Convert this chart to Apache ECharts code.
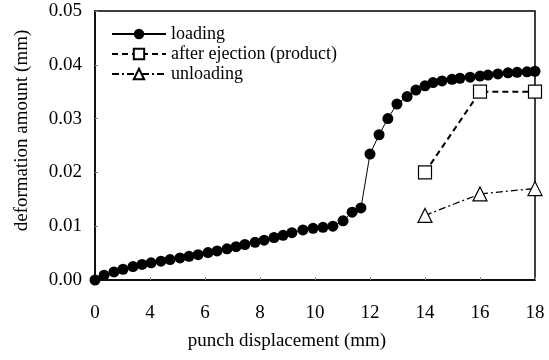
<!DOCTYPE html>
<html>
<head>
<meta charset="utf-8">
<script src="https://cdn.jsdelivr.net/npm/echarts@6/dist/echarts.min.js"></script>
<style>
  html, body { margin: 0; padding: 0; background: #fff; }
  #chart { width: 549px; height: 360px; }
</style>
</head>
<body>
<div id="chart"></div>
<script>
// x positions are in axis units; the first tick (2) is labelled "0" as in the figure
const xTickLabels = { 2: '0', 4: '4', 6: '6', 8: '8', 10: '10', 12: '12', 14: '14', 16: '16', 18: '18' };

const loadingX = [2.00, 2.33, 2.69, 3.02, 3.38, 3.71, 4.04, 4.40, 4.73, 5.09, 5.42, 5.75,
  6.11, 6.44, 6.80, 7.13, 7.45, 7.82, 8.15, 8.51, 8.84, 9.16, 9.56, 9.93, 10.29, 10.65,
  11.02, 11.35, 11.67, 12.00, 12.33, 12.65, 12.98, 13.35, 13.67, 14.00, 14.29, 14.62,
  14.98, 15.27, 15.64, 16.00, 16.29, 16.65, 17.02, 17.35, 17.71, 18.00];
const loadingY = [0, 0.0009, 0.0015, 0.0020, 0.0025, 0.0029, 0.0032, 0.0035, 0.0038, 0.0041,
  0.0044, 0.0047, 0.0051, 0.0054, 0.0058, 0.0062, 0.0066, 0.0070, 0.0074, 0.0079, 0.0083,
  0.0088, 0.0093, 0.0096, 0.0098, 0.0100, 0.0110, 0.0126, 0.0134, 0.0234, 0.0270, 0.0300,
  0.0327, 0.0341, 0.0353, 0.0361, 0.0367, 0.0370, 0.0373, 0.0375, 0.0377, 0.0379, 0.0381,
  0.0383, 0.0385, 0.0386, 0.0387, 0.0388];

const laterX = [14, 16, 18];
const ejectionY = [0.020, 0.035, 0.035];
const unloadingY = [0.012, 0.016, 0.017];

const font = 'Liberation Serif';

function pairs(xs, ys) {
  return xs.map((x, i) => [x, ys[i]]);
}

const chart = echarts.init(document.getElementById('chart'));

chart.setOption({
  animation: false,
  grid: {
    left: 95, right: 14, top: 11, bottom: 80,
    show: true, borderColor: '#000', borderWidth: 1.5
  },
  legend: {
    orient: 'vertical',
    left: 106, top: 19,
    itemWidth: 54, itemHeight: 13, itemGap: 0,
    textStyle: { fontFamily: font, fontSize: 18, color: '#000', lineHeight: 20 },
    data: ['loading', 'after ejection (product)', 'unloading']
  },
  xAxis: {
    type: 'value', min: 2, max: 18, interval: 2,
    name: 'punch displacement (mm)', nameLocation: 'middle', nameGap: 52,
    nameTextStyle: { fontFamily: font, fontSize: 19, color: '#000', padding: [0, 56, 0, 0] },
    axisLine: { lineStyle: { color: '#000', width: 1.5 } },
    axisTick: { inside: true, length: 3, lineStyle: { color: '#888' } },
    axisLabel: {
      fontFamily: font, fontSize: 19, color: '#000', margin: 24,
      formatter: v => xTickLabels[v] || ''
    },
    splitLine: { show: false }
  },
  yAxis: {
    type: 'value', min: 0, max: 0.05, interval: 0.01,
    name: 'deformation amount (mm)', nameLocation: 'middle', nameGap: 63,
    nameTextStyle: { fontFamily: font, fontSize: 19, color: '#000', padding: [0, 0, 0, 30] },
    axisLine: { lineStyle: { color: '#000', width: 1.5 } },
    axisTick: { inside: true, length: 3, lineStyle: { color: '#888' } },
    axisLabel: {
      fontFamily: font, fontSize: 19, color: '#000', margin: 13,
      formatter: v => v.toFixed(2)
    },
    splitLine: { show: false }
  },
  series: [
    {
      name: 'loading', type: 'line',
      data: pairs(loadingX, loadingY),
      symbol: 'circle', symbolSize: 11,
      itemStyle: { color: '#000' },
      lineStyle: { color: '#000', width: 1 },
      z: 3
    },
    {
      name: 'after ejection (product)', type: 'line',
      data: pairs(laterX, ejectionY),
      symbol: 'rect', symbolSize: 13,
      itemStyle: { color: '#fff', borderColor: '#000', borderWidth: 1.2 },
      lineStyle: { color: '#000', width: 2, type: [6, 4] },
      z: 4
    },
    {
      name: 'unloading', type: 'line',
      data: pairs(laterX, unloadingY),
      symbol: 'triangle', symbolSize: 14,
      itemStyle: { color: '#fff', borderColor: '#000', borderWidth: 1.2 },
      lineStyle: { color: '#000', width: 1.3, type: [7, 3, 2, 3] },
      z: 4
    }
  ]
});
</script>
</body>
</html>
